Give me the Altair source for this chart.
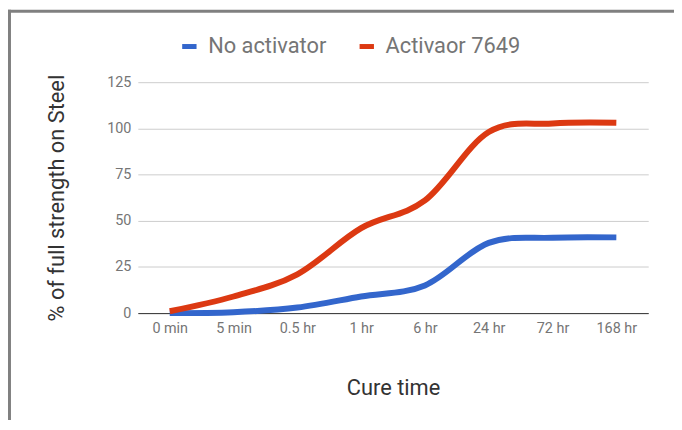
import altair as alt
import pandas as pd

categories = ["0 min", "5 min", "0.5 hr", "1 hr", "6 hr", "24 hr", "72 hr", "168 hr"]
series_names = ["No activator", "Activaor 7649"]
no_activator = [0, 0.5, 3, 9, 15, 38, 40.8, 41]
activator_7649 = [1, 9, 21, 46, 61, 98, 102.6, 103]
y_ticks = [0, 25, 50, 75, 100, 125]

rows = []
for name, vals in zip(series_names, [no_activator, activator_7649]):
    for c, v in zip(categories, vals):
        rows.append({"time": c, "value": v, "series": name})
df = pd.DataFrame(rows)

FONT = "Roboto"
W, H = 515, 233
PL, PT = 131, 73

lines = alt.Chart(df).mark_line(strokeWidth=6, interpolate="cardinal", tension=0).encode(
    x=alt.X("time:N", sort=categories,
            scale=alt.Scale(type="point", padding=0.5),
            axis=alt.Axis(title="Cure time", labelAngle=0, ticks=False,
                          labelPadding=9, labelFontSize=14.5, labelColor="#757575",
                          labelFont=FONT, domain=True, domainColor="#333333",
                          domainWidth=1, grid=False, titleFont=FONT,
                          titleFontSize=22, titleFontWeight="normal",
                          titleColor="#333333", titleAlign="center",
                          titleBaseline="alphabetic", titleX=W / 2, titleY=82)),
    y=alt.Y("value:Q", scale=alt.Scale(domain=[0, 125], nice=False),
            axis=alt.Axis(title="% of full strength on Steel", values=y_ticks,
                          ticks=False, domain=False, labelPadding=7,
                          labelFontSize=14.5, labelColor="#757575", labelFont=FONT,
                          gridColor="#cccccc", gridWidth=1, titleFont=FONT,
                          titleFontSize=22, titleFontWeight="normal",
                          titleColor="#333333", titleAngle=270, titleAlign="center",
                          titleBaseline="alphabetic", titleX=-75, titleY=H / 2)),
    color=alt.Color("series:N", sort=series_names,
                    scale=alt.Scale(domain=series_names, range=["#3366cc", "#dc3912"]),
                    legend=alt.Legend(orient="none", legendX=41, legendY=-47,
                                      direction="horizontal", title=None,
                                      symbolType="stroke", symbolStrokeWidth=5,
                                      symbolSize=210, labelFontSize=22,
                                      labelColor="#757575", labelFont=FONT,
                                      columnPadding=22, labelOffset=8, padding=0)),
    order=alt.Order("series_order:Q"),
).transform_calculate(
    series_order="datum.series === 'No activator' ? 0 : 1"
)

frame_top = alt.Chart(pd.DataFrame({"a": [0]})).mark_rule(color="#808080", strokeWidth=3).encode(
    x=alt.value(-PL), x2=alt.value(W + 30), y=alt.value(-PT + 1.5)
)
frame_left = alt.Chart(pd.DataFrame({"a": [0]})).mark_rule(color="#808080", strokeWidth=3).encode(
    x=alt.value(-PL + 1.5), y=alt.value(-PT), y2=alt.value(H + 110)
)

chart = alt.layer(lines, frame_top, frame_left).properties(
    width=W, height=H,
    autosize=alt.AutoSizeParams(type="none"),
    padding={"left": PL, "top": PT, "right": 26, "bottom": 106},
    background="white",
).configure_view(stroke=None)

chart.save("out.html", embed_options={"renderer": "svg", "actions": False})
